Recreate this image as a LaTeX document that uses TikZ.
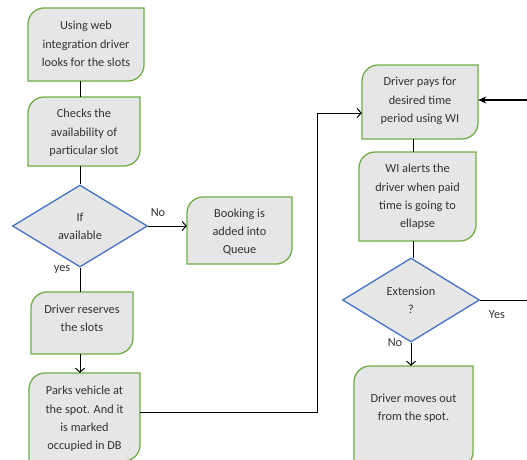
\documentclass[tikz,border=0pt]{standalone}
\usepackage{fontspec}
\setmainfont{Carlito}
\usetikzlibrary{shapes.geometric,arrows.meta,calc}
\definecolor{boxgray}{HTML}{E7E6E6}
\definecolor{boxgreen}{HTML}{70AD47}
\definecolor{dblue}{HTML}{4472C4}
\definecolor{txt}{HTML}{333333}
\tikzset{
  boxshape/.style={draw=boxgreen,fill=boxgray,line width=1.3pt},
  holder/.style={rectangle,inner sep=0pt,draw=none},
  boxtext/.style={align=center,text=txt,font=\fontsize{12.3}{18.3}\selectfont,inner sep=0pt},
  decision/.style={diamond,draw=dblue,fill=boxgray,line width=1.3pt,inner sep=0pt,align=center,text=txt,font=\fontsize{12.3}{18.3}\selectfont},
  conn/.style={line width=1pt,black},
  arr/.style={conn,-{Straight Barb[length=4pt,width=9pt]}},
  bigarr/.style={line width=2pt,black,-{Stealth[length=8pt,width=7pt]}},
  lbl/.style={text=txt,font=\fontsize{12.3}{14}\selectfont,inner sep=0pt}
}
% name, x1, y1, x2, y2, text-y, text
\newcommand\flowbox[7]{%
  \draw[boxshape] (#2,#5) -- (#2,#3+16) .. controls (#2,#3+7.2) and (#2+7.2,#3) .. (#2+16,#3) -- (#4,#3) -- (#4,#5-16) .. controls (#4,#5-7.2) and (#4-7.2,#5) .. (#4-16,#5) -- cycle;
  \node[holder,minimum width={(#4-#2)*1pt},minimum height={(#5-#3)*1pt}] (#1) at ({(#2+#4)/2},{(#3+#5)/2}) {};
  \node[boxtext] (#1-t) at ({(#2+#4)/2},#6) {#7};
}
\begin{document}
\begin{tikzpicture}[x=1pt,y=-1pt]
\useasboundingbox (0,0) rectangle (527,459);
\clip (0,0) rectangle (527,459);
\fill[white] (0,0) rectangle (527,459);

% left column
\flowbox{b1}{28}{8}{144}{81}{44}{Using web\\integration driver\\looks for the slots}
\flowbox{b2}{28}{97}{140}{166}{133}{Checks the\\availability of\\particular slot}
\node[decision,minimum width=135pt,minimum height=82pt] (d1) at (80,226) {If\\available};
\flowbox{q}{187}{197}{292}{264}{232}{Booking is\\added into\\Queue}
\flowbox{b3}{31}{292}{133}{354}{318}{Driver reserves\\the slots}
\flowbox{b4}{29}{373}{140}{461}{419}{Parks vehicle at\\the spot. And it\\is marked\\occupied in DB}

% right column
\flowbox{b5}{362}{65}{478}{139}{101}{Driver pays for\\desired time\\period using WI}
\flowbox{b6}{359}{152}{476}{241}{197}{WI alerts the\\driver when paid\\time is going to\\ellapse}
\node[decision,minimum width=137pt,minimum height=84pt] (d2) at (411,300) {Extension\\?};
\flowbox{b7}{354}{366}{473}{468}{408}{Driver moves out\\from the spot.}

\coordinate (r1) at (527,100);
\coordinate (r2) at (527,300);
\coordinate (bend) at (317,412);

% connectors
\draw[conn] (b1.south -| d1.north) -- (b2.north -| d1.north);
\draw[conn] (b2.south -| d1.north) -- (d1.north);
\draw[arr] (d1.east) -- (q.west |- d1.east);
\draw[conn] (d1.south) -- (d1.south |- b3.north);
\draw[arr] (b3.south -| d1.south) -- (b4.north -| d1.south);
\draw[arr] (b4.east |- bend) -- (bend) |- ($(b5.west)+(0,11)$);
\draw[bigarr] (r1) -- (b5.east |- r1);
\draw[conn] ($(b5.south -| d2.north)+(2,0)$) -- ($(b6.north -| d2.north)+(2,0)$);
\draw[conn] ($(b6.south -| d2.north)+(2,0)$) -- ($(d2.north)+(2,1)$);
\draw[conn] (d2.east) -- (r2);
\draw[arr] (d2.south) -- (b7.north -| d2.south);

% labels
\node[lbl] (lno1) at (158,213) {No};
\node[lbl] (lyes1) at (62,270) {yes};
\node[lbl] (lyes2) at (497,315) {Yes};
\node[lbl] (lno2) at (395,343) {No};
\end{tikzpicture}
\end{document}
